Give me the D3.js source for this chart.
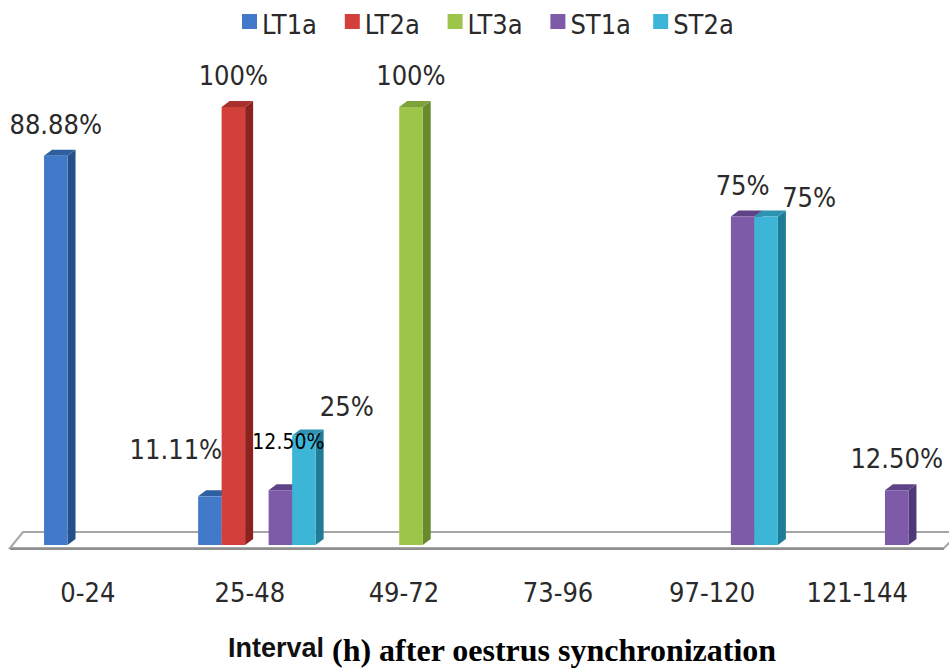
<!DOCTYPE html>
<html>
<head>
<meta charset="utf-8">
<script src="https://cdn.jsdelivr.net/npm/d3@7"></script>
<style>
  body { margin: 0; background: #fff; }
  svg { display: block; }
  .lbl { font-family: "DejaVu Sans Condensed", "DejaVu Sans", sans-serif; font-stretch: condensed; fill: #2a2a2a; }
</style>
</head>
<body>
<svg id="chart"></svg>
<script>
const categories = ["0-24", "25-48", "49-72", "73-96", "97-120", "121-144"];
const seriesNames = ["LT1a", "LT2a", "LT3a", "ST1a", "ST2a"];
const LT1a = [88.88, 11.11, 0, 0, 0, 0];
const LT2a = [0, 100, 0, 0, 0, 0];
const LT3a = [0, 0, 100, 0, 0, 0];
const ST1a = [0, 12.5, 0, 0, 75, 12.5];
const ST2a = [0, 25, 0, 0, 75, 0];

const seriesValues = [LT1a, LT2a, LT3a, ST1a, ST2a];

// front, side, top face colours per series
const colors = {
    LT1a: ["#4279c8", "#24508a", "#2f5f9f"],
    LT2a: ["#d3403c", "#8c2220", "#a8302d"],
    LT3a: ["#9dc54a", "#698a2c", "#7ea23a"],
    ST1a: ["#7d5ba8", "#503978", "#5e4386"],
    ST2a: ["#3cb5d6", "#1f7c96", "#2e93b0"]
};

// data labels the author dragged by hand
const labelNudge = {
    "LT1a|25-48": {dx: -34, dy: -15},
    "ST1a|25-48": {dx: 8, dy: -19, small: true},
    "ST2a|25-48": {dx: 43, dy: 2},
    "ST2a|97-120": {dx: 43, dy: 12}
};
const tickNudge = {"0-24": -8, "121-144": -9};

let width = 949, height = 668;
let depth = {dx: 8, dy: -6};

let svg = d3.select("#chart")
    .attr("width", width)
    .attr("height", height);

let x0 = d3.scaleBand()
    .domain(categories)
    .range([25.7, 950.3])
    .paddingInner(0.2375)
    .paddingOuter(0.119);

let x1 = d3.scaleBand()
    .domain(seriesNames)
    .range([0, x0.bandwidth()]);

let y = d3.scaleLinear()
    .domain([0, 100])
    .range([545, 107]);

// floor
let floorBack = 532, floorFront = 548;
svg.append("polygon")
    .attr("points", [[23, floorBack], [960, floorBack], [944, floorFront], [10, floorFront]].join(" "))
    .attr("fill", "#fff")
    .attr("stroke", "#a6a6a6")
    .attr("stroke-width", 2);
svg.append("line")
    .attr("x1", 10).attr("x2", 944)
    .attr("y1", floorFront + 1).attr("y2", floorFront + 1)
    .attr("stroke", "#8f8f8f")
    .attr("stroke-width", 2);

// bars, drawn left to right so later faces overlap
let bars = [];
categories.forEach(function(cat, ci){
    seriesNames.forEach(function(s, si){
        let v = seriesValues[si][ci];
        if (v > 0) bars.push({cat: cat, series: s, value: v});
    });
});

let g = svg.append("g");
bars.forEach(function(d){
    let bx = x0(d.cat) + x1(d.series);
    let bw = x1.bandwidth();
    let top = y(d.value), base = y(0);
    let c = colors[d.series];
    let bar = g.append("g");
    // side
    bar.append("polygon")
        .attr("points", [[bx + bw, top], [bx + bw + depth.dx, top + depth.dy],
                         [bx + bw + depth.dx, base + depth.dy], [bx + bw, base]].join(" "))
        .attr("fill", c[1]);
    // top
    bar.append("polygon")
        .attr("points", [[bx, top], [bx + depth.dx, top + depth.dy],
                         [bx + bw + depth.dx, top + depth.dy], [bx + bw, top]].join(" "))
        .attr("fill", c[2]);
    // front
    bar.append("rect")
        .attr("x", bx).attr("y", top)
        .attr("width", bw).attr("height", base - top)
        .attr("fill", c[0]);
});

// data labels
function fmt(v){
    return Number.isInteger(v) ? v + "%" : v.toFixed(2) + "%";
}
bars.forEach(function(d){
    let n = labelNudge[d.series + "|" + d.cat] || {dx: 0, dy: 0};
    let cx = x0(d.cat) + x1(d.series) + x1.bandwidth() / 2;
    svg.append("text")
        .attr("class", "lbl")
        .attr("x", cx + n.dx)
        .attr("y", y(d.value) - 22 + n.dy)
        .attr("text-anchor", "middle")
        .attr("font-size", n.small ? 21 : 27)
        .style("fill", n.small ? "#000" : null)
        .text(fmt(d.value));
});

// category labels
categories.forEach(function(cat){
    svg.append("text")
        .attr("class", "lbl")
        .attr("x", x0(cat) + x0.bandwidth() / 2 - 7 + (tickNudge[cat] || 0))
        .attr("y", 602)
        .attr("text-anchor", "middle")
        .attr("font-size", 27)
        .text(cat);
});

// legend
let legend = svg.append("g");
seriesNames.forEach(function(s, i){
    let lx = 242 + i * 102.8;
    legend.append("rect")
        .attr("x", lx).attr("y", 14)
        .attr("width", 15).attr("height", 15)
        .attr("fill", colors[s][0]);
    legend.append("text")
        .attr("class", "lbl")
        .attr("x", lx + 20).attr("y", 34)
        .attr("font-size", 27)
        .text(s);
});

// bottom captions
svg.append("text")
    .attr("x", 228).attr("y", 657)
    .attr("font-family", "'Liberation Sans', Arial, sans-serif")
    .attr("font-weight", "bold")
    .attr("font-size", 27)
    .attr("fill", "#111")
    .text("Interval");
svg.append("text")
    .attr("x", 332).attr("y", 661)
    .attr("font-family", "'Liberation Serif', 'Times New Roman', serif")
    .attr("font-weight", "bold")
    .attr("font-size", 32)
    .attr("fill", "#000")
    .text("(h) after oestrus synchronization");
</script>
</body>
</html>
